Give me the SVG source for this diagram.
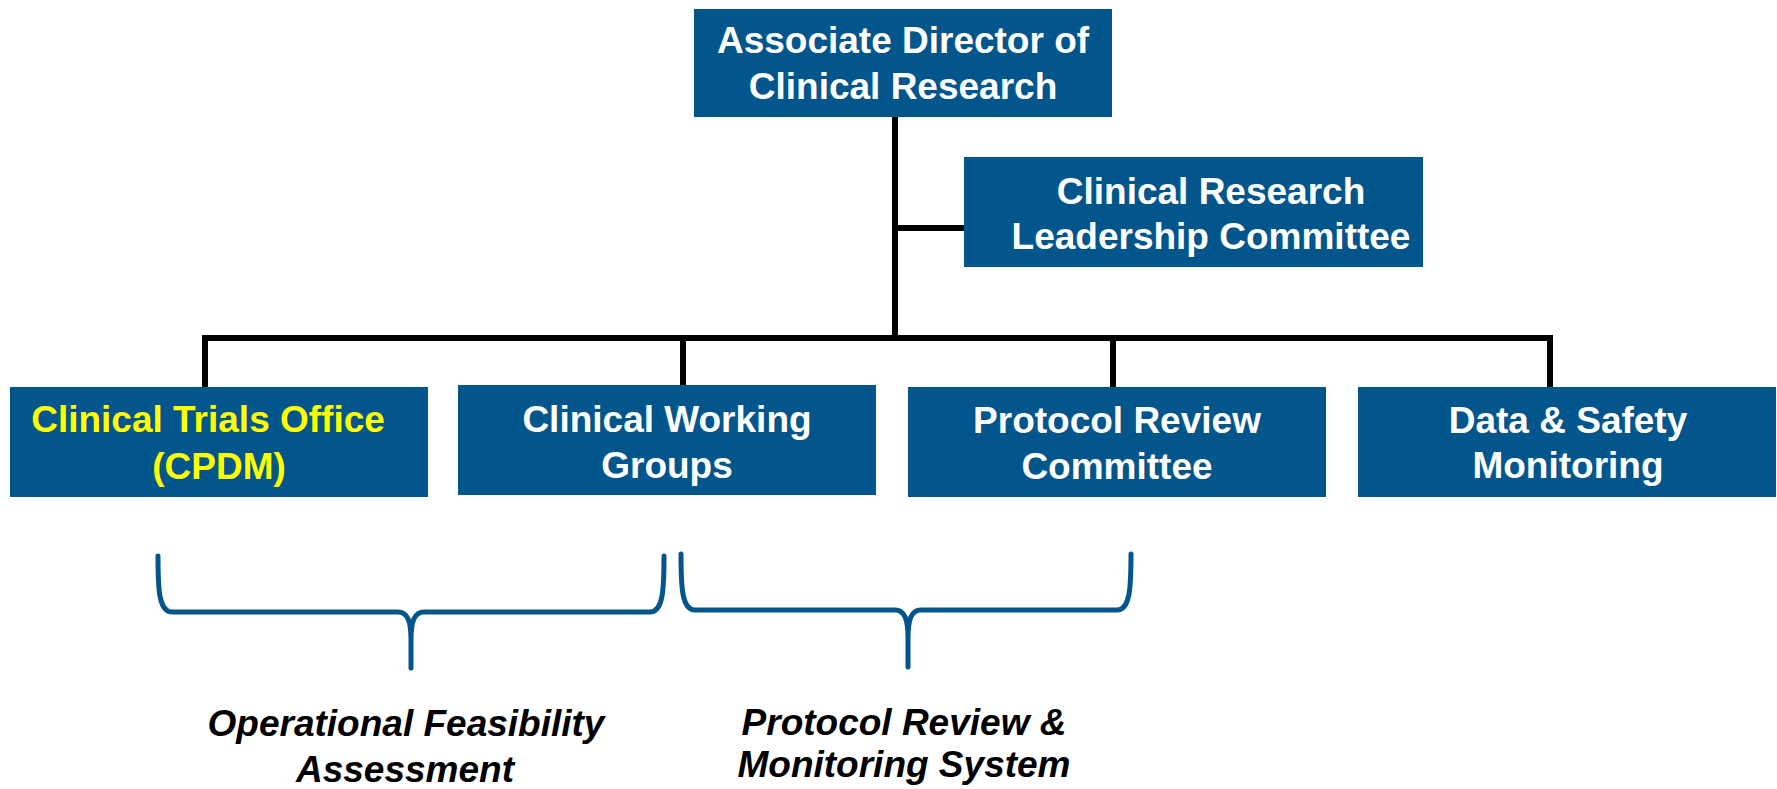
<svg xmlns="http://www.w3.org/2000/svg" width="1777" height="789" viewBox="0 0 1777 789">
<style>
.box{fill:#03568C;}
.t{font-family:"Liberation Sans",Arial,sans-serif;font-weight:bold;font-size:37px;fill:#FFFFFF;text-anchor:middle;}
.y{fill:#FFFF00;}
.lbl{font-family:"Liberation Sans",Arial,sans-serif;font-weight:bold;font-style:italic;font-size:37px;fill:#000000;text-anchor:middle;}
.conn{fill:none;stroke:#000000;stroke-width:6;stroke-linejoin:miter;}
.brace{fill:none;stroke:#03568C;stroke-width:5;stroke-linecap:round;stroke-linejoin:round;}
</style>
<rect width="1777" height="789" fill="#FFFFFF"/>
<g id="connectors">
<path class="conn" d="M895,117 V338"/>
<path class="conn" d="M895,228 H964"/>
<path class="conn" d="M205,387 V338 H1550 V387"/>
<path class="conn" d="M683,338 V385"/>
<path class="conn" d="M1113,338 V387"/>
</g>
<g id="node-director">
<rect class="box" x="694" y="9" width="418" height="108"/>
<text class="t" x="903" y="53">Associate Director of</text>
<text class="t" x="903" y="99">Clinical Research</text>
</g>
<g id="node-crlc">
<rect class="box" x="964" y="157" width="459" height="110"/>
<text class="t" x="1211" y="204">Clinical Research</text>
<text class="t" x="1211" y="249">Leadership Committee</text>
</g>
<g id="node-cto">
<rect class="box" x="10" y="387" width="418" height="110"/>
<text class="t y" x="208" y="432">Clinical Trials Office</text>
<text class="t y" x="219" y="479">(CPDM)</text>
</g>
<g id="node-cwg">
<rect class="box" x="458" y="385" width="418" height="110"/>
<text class="t" x="667" y="432">Clinical Working</text>
<text class="t" x="667" y="478">Groups</text>
</g>
<g id="node-prc">
<rect class="box" x="908" y="387" width="418" height="110"/>
<text class="t" x="1117" y="433">Protocol Review</text>
<text class="t" x="1117" y="479">Committee</text>
</g>
<g id="node-dsm">
<rect class="box" x="1358" y="387" width="418" height="110"/>
<text class="t" x="1568" y="433">Data &amp; Safety</text>
<text class="t" x="1568" y="478">Monitoring</text>
</g>
<g id="brace-ofa">
<path class="brace" d="M158,556 C158,590 159,612 172,612 L398,612 C408,612 411,622 411,640 L411,668 M411,640 C411,622 414,612 424,612 L650,612 C663,612 664,590 664,556"/>
<text class="lbl" x="406" y="736">Operational Feasibility</text>
<text class="lbl" x="405" y="782">Assessment</text>
</g>
<g id="brace-prms">
<path class="brace" d="M681,554 C681,588 682,610 695,610 L895,610 C905,610 908,620 908,638 L908,667 M908,638 C908,620 911,610 921,610 L1117,610 C1130,610 1131,588 1131,554"/>
<text class="lbl" x="904" y="735">Protocol Review &amp;</text>
<text class="lbl" x="904" y="777">Monitoring System</text>
</g>
</svg>
